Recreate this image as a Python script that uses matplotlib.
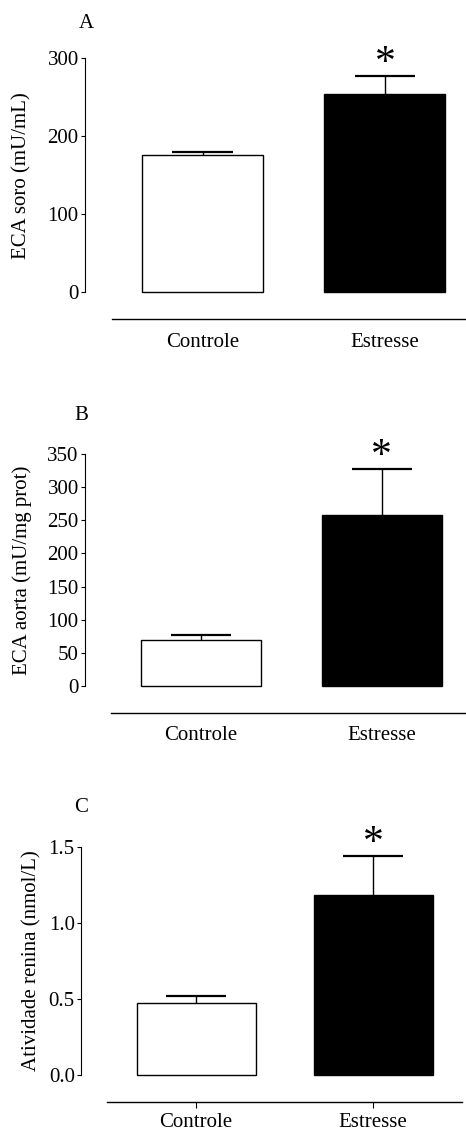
import matplotlib
matplotlib.use("Agg")
import matplotlib.pyplot as plt

# ── Data ──────────────────────────────────────────────────────────────────────
GROUPS = ["Controle", "Estresse"]

soro_mean = [176, 254]
soro_sem = [4, 23]

aorta_mean = [70, 258]
aorta_sem = [7, 69]

renina_mean = [0.47, 1.18]
renina_sem = [0.05, 0.26]

soro_ticks = [0, 100, 200, 300]
aorta_ticks = [0, 50, 100, 150, 200, 250, 300, 350]
renina_ticks = [0.0, 0.5, 1.0, 1.5]
renina_ticklabels = ["0.0", "0.5", "1.0", "1.5"]

# ── Layout (pixels) ───────────────────────────────────────────────────────────
W, H = 466, 1131
plt.rcParams["font.family"] = ["Liberation Serif", "DejaVu Serif"]
plt.rcParams["font.size"] = 15

fig = plt.figure(figsize=(W / 100, H / 100), dpi=100)


def px_axes(left, top, right, bottom):
    return fig.add_axes([left / W, 1 - bottom / H, (right - left) / W, (bottom - top) / H])


def panel(letter, means, sems, ticks, ticklabels, ylabel, geo, xticks_marks):
    ax = px_axes(geo["left"], geo["top"], W, geo["bottom"])
    ax.set_xlim(geo["xlim"])
    ax.set_ylim(ticks[0], ticks[-1])
    colors = ["white", "black"]
    bars = ax.bar([0, 1], means, width=geo["width"], color=colors,
                  edgecolor="black", linewidth=1.0, zorder=2)
    for b in bars:
        b.set_clip_on(False)
    # upper-only error bars (SEM)
    cap = geo["width"] / 4
    for i in range(2):
        top = means[i] + sems[i]
        ax.vlines(i, means[i], top, color="black", linewidth=1.0, zorder=1)
        ax.hlines(top, i - cap, i + cap, color="black", linewidth=1.6,
                  zorder=1, clip_on=False)
    # significance star
    ax.annotate("*", xy=(1, means[1] + sems[1]), xytext=(0, -5),
                textcoords="offset points", ha="center", va="bottom",
                fontsize=30, annotation_clip=False)

    for s in ["top", "right"]:
        ax.spines[s].set_visible(False)
    ax.spines["left"].set_linewidth(0.8)
    ax.spines["left"].set_bounds(ticks[0], ticks[-1])
    ax.set_yticks(ticks)
    ax.set_yticklabels(ticklabels)
    ax.tick_params(axis="y", direction="out", length=3, width=0.8, pad=1.5)

    ax.spines["bottom"].set_position(("outward", geo["xline_off"]))
    ax.spines["bottom"].set_bounds(geo["xline_start"], geo["xline_end"])
    ax.spines["bottom"].set_linewidth(1.0)
    ax.set_xticks([0, 1])
    ax.set_xticklabels(GROUPS)
    if xticks_marks:
        ax.tick_params(axis="x", direction="out", length=4.5, width=0.8, pad=3.5)
    else:
        ax.tick_params(axis="x", length=0, pad=9.5)

    fig.text(geo["ylabel_x"] / W, 1 - (geo["top"] + geo["bottom"]) / 2 / H, ylabel,
             rotation=90, ha="center", va="center")
    fig.text(geo["letter_x"] / W, 1 - geo["letter_y"] / H, letter,
             ha="center", va="center")
    return ax


geo_a = dict(left=85, top=58.3, bottom=292.3, xlim=(-0.644, 1.444), width=0.663,
             xline_off=19.5, xline_start=-0.496, xline_end=1.444,
             ylabel_x=22, letter_x=86, letter_y=24)
geo_b = dict(left=85, top=454, bottom=686, xlim=(-0.643, 1.468), width=0.665,
             xline_off=19.3, xline_start=-0.499, xline_end=1.468,
             ylabel_x=22, letter_x=81, letter_y=415)
geo_c = dict(left=81, top=846.7, bottom=1075, xlim=(-0.65, 1.525), width=0.672,
             xline_off=19.3, xline_start=-0.503, xline_end=1.503,
             ylabel_x=32, letter_x=81, letter_y=807)

panel("A", soro_mean, soro_sem, soro_ticks, [str(t) for t in soro_ticks],
      "ECA soro (mU/mL)", geo_a, False)
panel("B", aorta_mean, aorta_sem, aorta_ticks, [str(t) for t in aorta_ticks],
      "ECA aorta (mU/mg prot)", geo_b, False)
panel("C", renina_mean, renina_sem, renina_ticks, renina_ticklabels,
      "Atividade renina (nmol/L)", geo_c, True)

fig.savefig("out.png", dpi=100)
